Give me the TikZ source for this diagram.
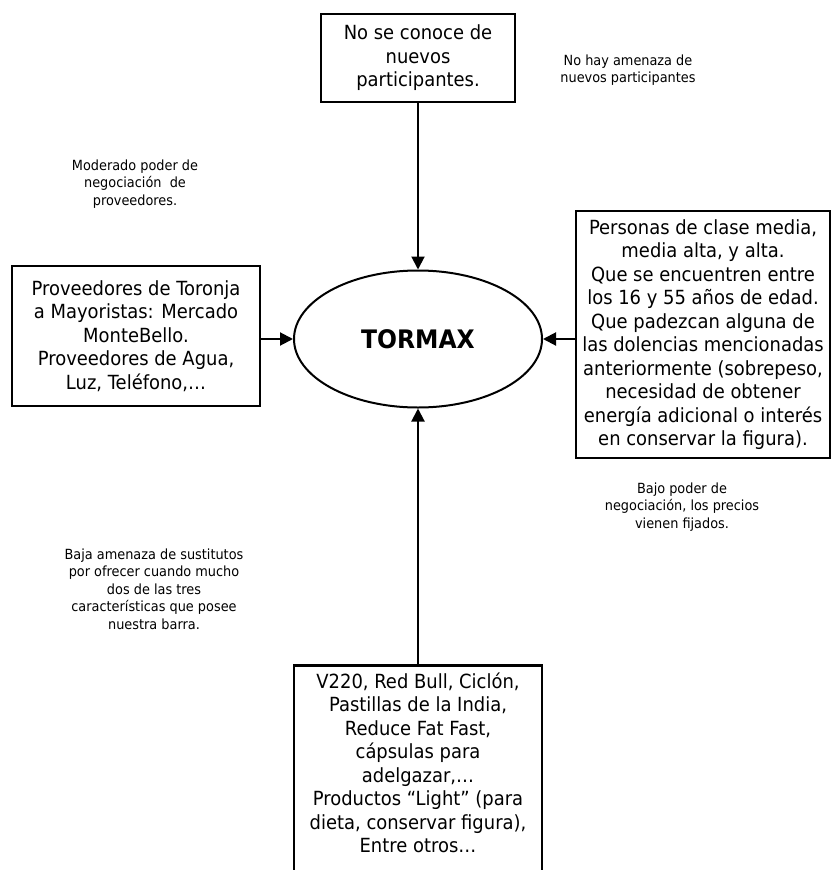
\documentclass[tikz,border=0pt]{standalone}
\usepackage{fontspec}
\setmainfont{DejaVu Sans}[FakeStretch=0.92]
\usetikzlibrary{shapes.geometric,arrows.meta}
\tikzset{
    caja/.style={rectangle,draw=black,line width=2.6pt,align=center,inner sep=0,font=\fontsize{19.5}{23.5}\selectfont},
    texto/.style={align=center,inner sep=0,font=\fontsize{19.5}{23.5}\selectfont},
    nota/.style={align=center,inner sep=0,font=\fontsize{14}{17.5}\selectfont},
    flecha/.style={line width=2pt,-{Triangle[length=13pt,width=13pt]}}
}

\begin{document}
\begin{tikzpicture}[x=1pt,y=-1pt]
    \useasboundingbox (0,0) rectangle (832,870);
    % centro
    \node[ellipse,draw=black,line width=2pt,inner sep=0,minimum width=248,minimum height=137,
          font=\fontsize{25.5}{30}\selectfont\bfseries] (tor) at (418,339) {TORMAX};
    % cajas
    \node[caja,minimum width=194,minimum height=88] (nue) at (418,58)
        {No se conoce de\\nuevos\\participantes.};
    \node[caja,minimum width=248,minimum height=140] (prov) at (136,336)
        {Proveedores de Toronja\\a Mayoristas: Mercado\\MonteBello.\\Proveedores de Agua,\\Luz, Teléfono,…};
    \node[caja,minimum width=254,minimum height=247] (cli) at (703,334.5)
        {Personas de clase media,\\media alta, y alta.\\Que se encuentren entre\\los 16 y 55 años de edad.\\Que padezcan alguna de\\las dolencias mencionadas\\anteriormente (sobrepeso,\\necesidad de obtener\\energía adicional o interés\\en conservar la figura).};
    \node[caja,minimum width=248,minimum height=240,anchor=north] (sust) at (418,664) {};
    \node[texto] (sustxt) at (418,763)
        {V220, Red Bull, Ciclón,\\Pastillas de la India,\\Reduce Fat Fast,\\cápsulas para\\adelgazar,…\\Productos “Light” (para\\dieta, conservar figura),\\Entre otros…};
    % notas
    \node[nota] (nuenota) at (628,70) {No hay amenaza de\\nuevos participantes};
    \node[nota] (provnota) at (135,184) {Moderado poder de\\negociación~ de\\proveedores.};
    \node[nota] (clinota) at (682,507) {Bajo poder de\\negociación, los precios\\vienen fijados.};
    \node[nota] (sustnota) at (154,589) {Baja amenaza de sustitutos\\por ofrecer cuando mucho\\dos de las tres\\características que posee\\nuestra barra.};
    % flechas
    \draw[flecha] (nue) -- (tor);
    \draw[flecha] (prov.east |- tor.west) -- (tor.west);
    \draw[flecha] (cli.west |- tor.east) -- (tor.east);
    \draw[flecha] (sust.north) -- (tor.south);
\end{tikzpicture}
\end{document}
